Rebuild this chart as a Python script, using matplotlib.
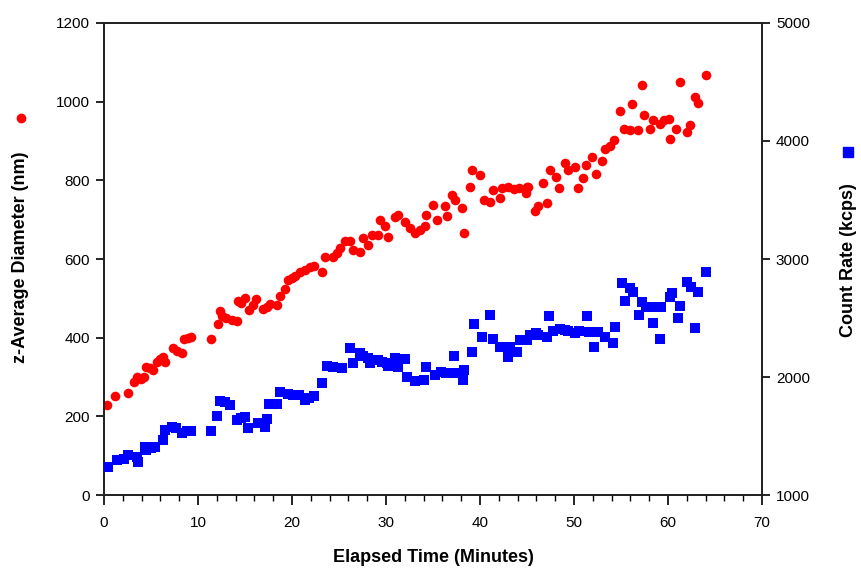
import numpy as np
import matplotlib
matplotlib.use("Agg")
from matplotlib import pyplot as plt
from matplotlib.ticker import MultipleLocator

plt.rcParams['font.family'] = ['Liberation Sans', 'DejaVu Sans']

# z-average diameter (nm), left axis
t_size = [0.3, 1.2, 2.6, 3.2, 3.5, 3.9, 4.3, 4.5, 4.9, 5.25, 5.6, 6.0, 6.3, 6.5, 7.3, 7.8, 8.3, 8.5, 8.9, 9.3,
          11.35, 12.1, 12.3, 12.6, 13.0, 13.6, 14.1, 14.3, 14.6, 15.0, 15.4, 15.8, 16.2, 16.9, 17.3, 17.7, 18.4, 18.7,
          19.3, 19.6, 20.0, 20.3, 20.8, 21.4, 21.9, 22.3, 23.2, 23.5, 24.4, 24.8, 25.1, 25.6, 26.2, 26.5, 27.2,
          27.6, 28.1, 28.5, 29.2, 29.4, 29.9, 30.2, 31.0, 31.3, 32.0, 32.6, 33.1, 33.6,
          34.1, 34.3, 35.0, 35.4, 36.3, 36.5, 37.0, 37.3, 38.1, 38.3, 38.9, 39.2, 40.0,
          40.4, 41.1, 41.4, 42.1, 42.3, 43.0, 43.6, 44.1, 44.9, 45.0, 45.1, 45.9, 46.2, 46.7,
          47.1, 47.4, 48.1, 48.4, 49.0, 49.4, 50.1, 50.4, 51.0, 51.3, 51.9, 52.3, 53.0,
          53.3, 53.8, 54.3, 54.9, 55.3, 56.0, 56.2, 56.8, 57.2, 57.4, 58.1, 58.4, 59.1,
          59.6, 60.1, 60.2, 60.9, 61.3, 62.0, 62.3, 62.9, 63.2, 64.0]
diameter = [229, 252, 259, 288, 299, 296, 301, 326, 322, 318, 337, 345, 352, 339, 373, 366, 360, 396, 398, 401,
            396, 434, 468, 455, 450, 446, 443, 492, 488, 500, 471, 484, 498, 472, 478, 486, 483, 505,
            523, 547, 552, 556, 566, 573, 579, 583, 566, 606, 606, 615, 628, 645, 645, 623, 619,
            653, 636, 662, 662, 700, 683, 657, 708, 712, 695, 678, 666, 674,
            683, 712, 738, 698, 735, 710, 763, 751, 729, 666, 784, 825, 814,
            751, 746, 776, 755, 780, 784, 778, 780, 767, 784, 784, 721, 734, 793,
            742, 827, 808, 780, 844, 827, 835, 780, 806, 840, 859, 817, 848,
            879, 888, 902, 975, 930, 929, 995, 929, 1043, 967, 930, 954, 944,
            954, 956, 905, 930, 1051, 924, 941, 1013, 997, 1068]

# count rate (kcps), right axis
t_count = [0.4, 1.35, 2.1, 2.6, 3.5, 3.65, 4.4, 4.5, 5.0, 5.4, 6.3, 6.5, 7.2, 7.7, 8.3, 8.8, 9.3,
           11.35, 12.05, 12.3, 12.9, 13.4, 14.1, 14.6, 15.0, 15.35, 16.4, 17.1, 17.3, 17.55, 18.0, 18.4,
           18.7, 19.6, 20.1, 20.7, 21.4, 21.8, 22.3, 23.2, 23.7, 24.4, 25.3, 26.2, 26.5, 27.2, 27.6, 28.1,
           28.3, 29.2, 29.6, 30.1, 30.2, 31.0, 31.3, 32.0, 32.2, 33.1, 34.0, 34.3, 35.2, 35.9,
           36.4, 37.2, 37.3, 38.2, 38.3, 39.1, 39.4, 40.2, 41.1, 41.4, 42.1, 43.0, 43.2, 43.9,
           44.3, 45.0, 45.3, 46.0, 46.2, 47.1, 47.3, 47.8, 48.5, 49.0, 49.4, 50.1, 50.5, 51.4,
           51.6, 52.1, 52.6, 53.3, 54.1, 54.4, 55.1, 55.4, 56.0, 56.3, 56.9, 57.2, 57.7,
           58.4, 58.6, 59.1, 59.3, 60.2, 60.4, 61.1, 61.3, 62.0, 62.4, 62.9, 63.2, 64.0]
count_rate = [1235, 1297, 1305, 1339, 1325, 1282, 1410, 1381, 1395, 1410, 1466, 1551, 1579, 1565, 1528, 1540, 1545,
              1542, 1670, 1800, 1790, 1763, 1636, 1650, 1664, 1571, 1607, 1579, 1641, 1771, 1775, 1771,
              1870, 1853, 1850, 1848, 1805, 1820, 1840, 1947, 2093, 2082, 2073, 2243, 2116, 2206, 2180, 2158,
              2121, 2144, 2130, 2116, 2093, 2158, 2082, 2150, 2003, 1969, 1975, 2082, 2017, 2045,
              2030, 2178, 2031, 1975, 2059, 2214, 2449, 2336, 2523, 2319, 2257, 2172, 2257, 2214,
              2314, 2314, 2356, 2370, 2356, 2342, 2517, 2393, 2404, 2398, 2393, 2370, 2393, 2517,
              2384, 2252, 2384, 2336, 2285, 2427, 2794, 2647, 2752, 2723, 2525, 2638, 2596,
              2460, 2596, 2319, 2596, 2681, 2709, 2497, 2602, 2808, 2766, 2413, 2723, 2887]

fig = plt.figure(figsize=(8.61, 5.72), dpi=100)
ax = fig.add_axes([0.1208, 0.1346, 0.7642, 0.8252])
ax2 = ax.twinx()

ax.scatter(t_size, diameter, s=48, marker='o', color='#ff0000', linewidths=0, zorder=3)
ax2.scatter(t_count, count_rate, s=60, marker='s', color='#0000ff', linewidths=0, zorder=3)

ax.set_xlim(0, 70)
ax.set_ylim(0, 1200)
ax2.set_ylim(1000, 5000)
ax.xaxis.set_major_locator(MultipleLocator(10))
ax.xaxis.set_minor_locator(MultipleLocator(2))
ax.yaxis.set_major_locator(MultipleLocator(200))
ax2.yaxis.set_major_locator(MultipleLocator(1000))

for a in (ax, ax2):
    for sp in a.spines.values():
        sp.set_linewidth(1.3)
        sp.set_color('#222222')
ax.tick_params(axis='x', which='major', direction='out', length=7, width=1.2, labelsize=11, pad=8)
ax.tick_params(axis='x', which='minor', direction='out', length=4, width=1.0)
ax.tick_params(axis='y', direction='out', length=6, width=1.2, labelsize=11, pad=4)
ax2.tick_params(axis='y', direction='out', length=6, width=1.2, labelsize=11, pad=4)

ax.set_xlabel('Elapsed Time (Minutes)', fontsize=13, fontweight='bold', labelpad=14)
fig.text(0.024, 0.55, 'z-Average Diameter (nm)', rotation=90, ha='center', va='center',
         fontsize=13, fontweight='bold')
fig.text(0.985, 0.545, 'Count Rate (kcps)', rotation=90, ha='center', va='center',
         fontsize=13, fontweight='bold')
# series keys drawn next to the axis titles
ax.plot([0.024], [0.793], marker='o', markersize=6, color='#ff0000', linestyle='none',
        transform=fig.transFigure, clip_on=False)
ax.plot([0.985], [0.734], marker='s', markersize=7, color='#0000ff', linestyle='none',
        transform=fig.transFigure, clip_on=False)

fig.savefig('out.png', dpi=100)
